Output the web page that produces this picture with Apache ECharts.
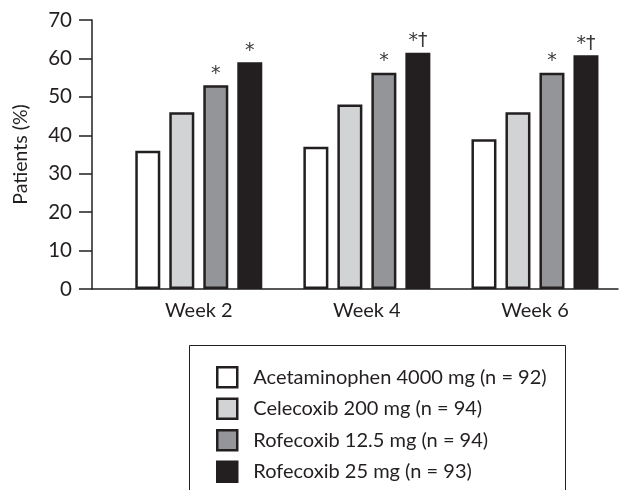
<!DOCTYPE html>
<html>
<head>
<meta charset="utf-8">
<script src="https://cdn.jsdelivr.net/npm/echarts@6/dist/echarts.min.js"></script>
<style>
html,body{margin:0;padding:0;background:#fff;}
#chart{width:619px;height:490px;}
</style>
</head>
<body>
<div id="chart"></div>
<script>
const categories = ['Week 2', 'Week 4', 'Week 6'];
const seriesNames = [
  'Acetaminophen 4000 mg (n = 92)',
  'Celecoxib 200 mg (n = 94)',
  'Rofecoxib 12.5 mg (n = 94)',
  'Rofecoxib 25 mg (n = 93)'
];
const acetaminophen = [36, 37, 39];
const celecoxib = [46, 48, 46];
const rofecoxib12 = [53, 56.3, 56.3];
const rofecoxib25 = [59, 61.5, 60.8];
const marksAcetaminophen = ['', '', ''];
const marksCelecoxib = ['', '', ''];
const marksRofecoxib12 = ['*', '*', '*'];
const marksRofecoxib25 = ['*', '*†', '*†'];
const yTicks = [0, 10, 20, 30, 40, 50, 60, 70];

const ink = '#231f20';
const font = 'Lato';
const colors = ['#ffffff', '#d1d3d4', '#939598', '#231f20'];
const values = [acetaminophen, celecoxib, rofecoxib12, rofecoxib25];
const marks = [marksAcetaminophen, marksCelecoxib, marksRofecoxib12, marksRofecoxib25];

const chart = echarts.init(document.getElementById('chart'), null, {renderer: 'canvas'});
chart.setOption({
  animation: false,
  backgroundColor: '#fff',
  textStyle: {fontFamily: font},
  grid: [
    {left: 92, right: 1, top: 20, height: 269},
    {left: 114.75, width: 514.5, top: 20, height: 269}
  ],
  xAxis: [
    {gridIndex: 0, type: 'value', min: 0, max: 1,
     axisLine: {show: true, lineStyle: {color: ink, width: 1.5}},
     axisTick: {show: false}, axisLabel: {show: false}, splitLine: {show: false}},
    {gridIndex: 1, type: 'category', data: categories,
     axisLine: {show: false}, axisTick: {show: false},
     axisLabel: {color: ink, fontSize: 20, fontFamily: font, margin: 12}}
  ],
  yAxis: [
    {gridIndex: 0, type: 'value', min: yTicks[0], max: yTicks[yTicks.length - 1], interval: 10,
     name: 'Patients (%)', nameLocation: 'middle', nameGap: 61, nameRotate: 90,
     nameTextStyle: {color: ink, fontSize: 19.5, fontFamily: font},
     axisLine: {show: true, lineStyle: {color: ink, width: 1.5}},
     axisTick: {show: true, length: 13, lineStyle: {color: ink, width: 1.5}},
     axisLabel: {color: ink, fontSize: 20.5, fontFamily: font, margin: 20},
     splitLine: {show: false}},
    {gridIndex: 1, type: 'value', min: 0, max: 70, show: false}
  ],
  legend: {
    orient: 'vertical', left: 211, top: 361,
    itemWidth: 20, itemHeight: 20, itemGap: 9,
    icon: 'rect',
    itemStyle: {borderColor: ink, borderWidth: 2.5},
    textStyle: {color: ink, fontSize: 20, fontFamily: font, padding: [0, 0, 0, 11]},
    data: seriesNames
  },
  graphic: [{
    type: 'rect', silent: true,
    shape: {x: 189.5, y: 345.5, width: 376, height: 170},
    style: {fill: 'none', stroke: ink, lineWidth: 1}
  }],
  series: values.map((vals, i) => ({
    type: 'bar',
    name: seriesNames[i],
    xAxisIndex: 1, yAxisIndex: 1,
    data: vals,
    barWidth: 25,
    barGap: '36%',
    itemStyle: {color: colors[i], borderColor: ink, borderWidth: 2.5},
    label: {
      show: true, position: 'top', distance: 2,
      color: '#3a3a3a', fontSize: 19, fontFamily: 'DejaVu Sans',
      formatter: p => marks[i][p.dataIndex]
    }
  }))
});
</script>
</body>
</html>
